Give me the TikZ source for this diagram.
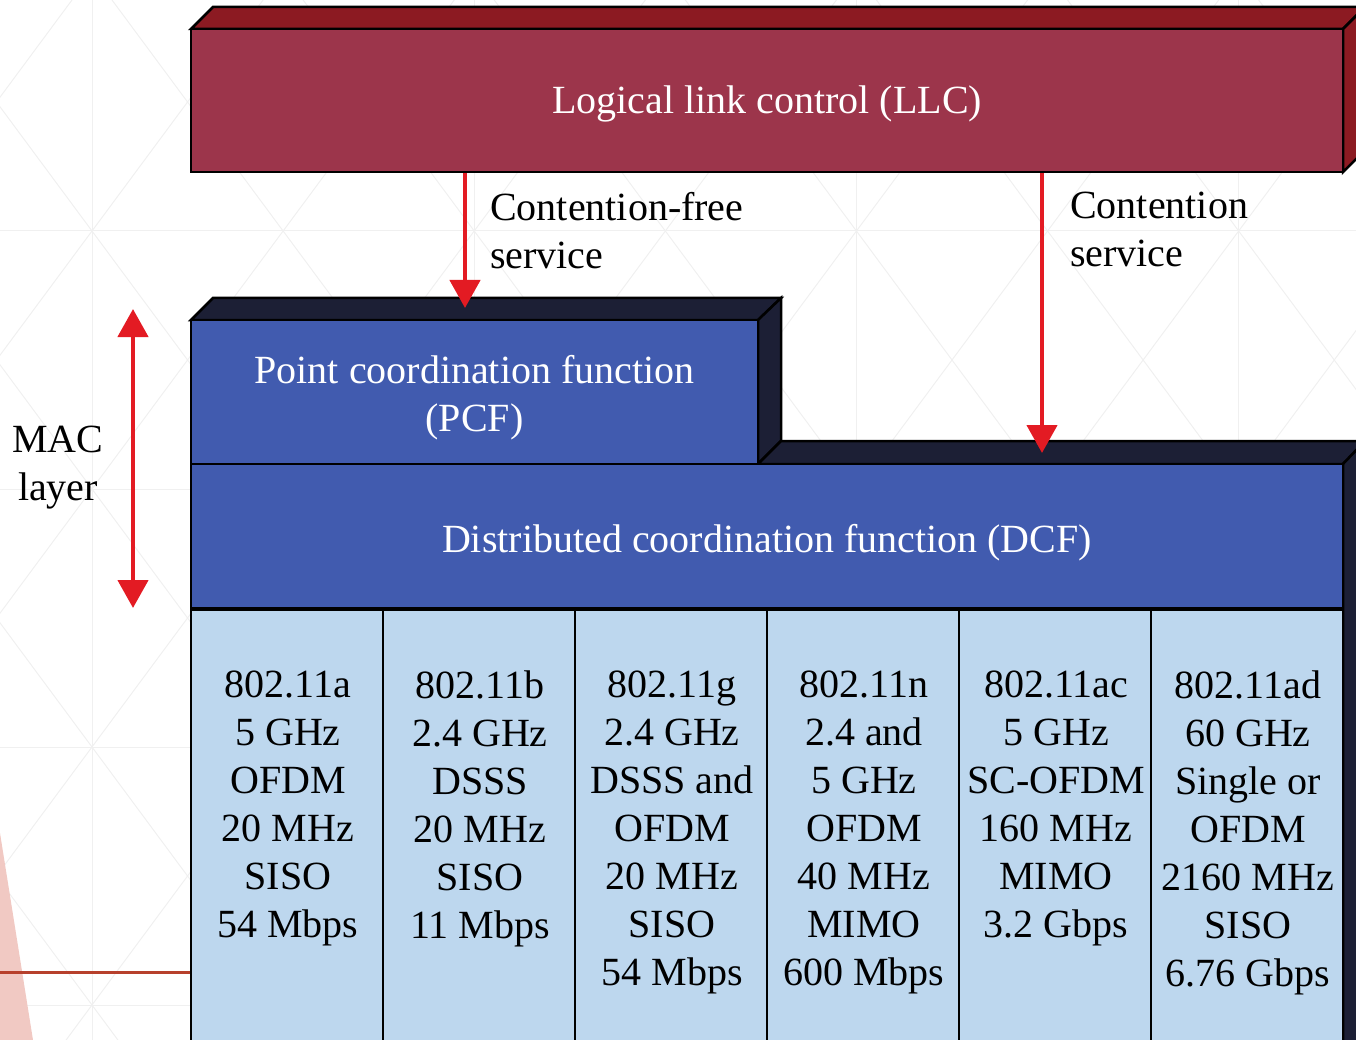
\documentclass[tikz,border=0pt]{standalone}
\usepackage{fontspec}
\setmainfont{Liberation Serif}
\usetikzlibrary{arrows.meta}

\definecolor{llcfront}{RGB}{156,53,75}
\definecolor{llcshade}{RGB}{140,26,34}
\definecolor{macfront}{RGB}{65,91,175}
\definecolor{macshade}{RGB}{28,31,53}
\definecolor{phyfill}{RGB}{189,215,238}
\definecolor{arrowred}{RGB}{227,27,35}
\definecolor{gridclr}{RGB}{240,240,240}
\definecolor{wedgeclr}{RGB}{241,201,195}
\definecolor{ruleclr}{RGB}{183,64,44}

\begin{document}
\begin{tikzpicture}[x=1pt,y=-1pt,
  every node/.style={font=\fontsize{40}{48}\selectfont, inner sep=0pt},
  face/.style={draw=black, line width=2.5pt, line join=miter},
  llcbox/.style={face, rectangle, fill=llcfront},
  macbox/.style={face, rectangle, fill=macfront},
  boxtext/.style={align=center, text=white},
  phybox/.style={face, rectangle, fill=phyfill, anchor=north,
                 minimum width=192pt, minimum height=480pt},
  phytext/.style={anchor=north, align=center, text=black},
  label/.style={anchor=north west, align=left, text=black},
  sig/.style={draw=arrowred, line width=4.5pt},
  >={Triangle[length=28pt,width=30pt]}
]
\useasboundingbox (0,0) rectangle (1356,1040);
\begin{scope}
\clip (0,0) rectangle (1356,1040);

% faint background lattice
\begin{scope}[draw=gridclr, line width=1pt]
  \foreach \k in {-8,...,11} {
    \draw (-1000,{231+258*\k-1474.2}) -- (1500,{231+258*\k+1900.8});
    \draw (-1000,{231+258*\k+1474.2}) -- (1500,{231+258*\k-1900.8});
  }
  \foreach \yy in {231,489,747,1005} \draw (0,\yy) -- (1356,\yy);
  \foreach \xx in {92,474,856,1238} \draw (\xx,0) -- (\xx,1040);
\end{scope}
\fill[wedgeclr] (0,833) -- (33,1040) -- (0,1040) -- cycle;
\draw[ruleclr, line width=3pt] (0,972) -- (191,972);

% LLC block: top and side faces
\draw[face, fill=llcshade] (191,29) -- (213,7) -- (1365,7) -- (1343,29) -- cycle;
\draw[face, fill=llcshade] (1343,29) -- (1365,7) -- (1365,150) -- (1343,172) -- cycle;

% MAC block: top and side faces
\draw[face, fill=macshade] (191,320) -- (213,298) -- (781,298) -- (758,320) -- cycle;
\draw[face, fill=macshade] (758,320) -- (781,298) -- (781,441) -- (758,464) -- cycle;
\draw[face, fill=macshade] (758,464) -- (781,441) -- (1365,441) -- (1343,464) -- cycle;
\draw[face, fill=macshade] (1343,464) -- (1365,441) -- (1365,1100) -- (1343,1100) -- cycle;

% front faces
\node[llcbox, minimum width=1152pt, minimum height=143pt] (llc) at (767,100.5) {};
\node[macbox, minimum width=567pt, minimum height=144pt] (pcf) at (474.5,392) {};
\node[macbox, minimum width=1152pt, minimum height=144pt] (dcf) at (767,536) {};

\node[boxtext] (llctext) at (767,103.5) {Logical link control (LLC)};
\node[boxtext] (pcftext) at (474.5,398) {Point coordination function\\(PCF)};
\node[boxtext] (dcftext) at (767,543) {Distributed coordination function (DCF)};

% physical layer variants
\node[phybox] (ca) at (287,608) {};
\node[phybox] (cb) at (479,608) {};
\node[phybox] (cg) at (671,608) {};
\node[phybox] (cn) at (863,608) {};
\node[phybox] (cac) at (1055,608) {};
\node[phybox] (cad) at (1247,608) {};

\node[phytext] (ta) at (288,671) {802.11a\\5 GHz\\OFDM\\20 MHz\\SISO\\54 Mbps};
\node[phytext] (tb) at (480,671) {802.11b\\2.4 GHz\\DSSS\\20 MHz\\SISO\\11 Mbps};
\node[phytext] (tg) at (672,671) {802.11g\\2.4 GHz\\DSSS and\\OFDM\\20 MHz\\SISO\\54 Mbps};
\node[phytext] (tn) at (864,671) {802.11n\\2.4 and\\5 GHz\\OFDM\\40 MHz\\MIMO\\600 Mbps};
\node[phytext] (tac) at (1056,671) {802.11ac\\5 GHz\\SC-OFDM\\160 MHz\\MIMO\\3.2 Gbps};
\node[phytext] (tad) at (1248,671) {802.11ad\\60 GHz\\Single or\\OFDM\\2160 MHz\\SISO\\6.76 Gbps};

% service labels
\node[label] (cfree) at (490,192) {Contention-free\\service};
\node[label] (cserv) at (1070,192) {Contention\\service};
\node[align=center] (mac) at (58,468) {MAC\\layer};

% service access arrows
\coordinate (pcfin) at (465,308);
\coordinate (dcfin) at (1042,453);
\draw[sig, ->] (llc.south -| pcfin) -- (pcfin);
\draw[sig, ->] (llc.south -| dcfin) -- (dcfin);

% MAC layer extent
\coordinate (mactop) at (133,309);
\coordinate (macbot) at (133,608);
\draw[sig, <->] (mactop) -- (macbot);
\end{scope}
\end{tikzpicture}
\end{document}
